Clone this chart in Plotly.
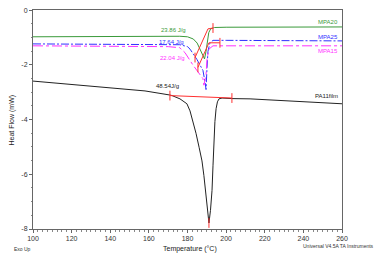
import plotly.graph_objects as go

# ---- data (temperature in °C, heat flow in mW) ----
mpa20_t = [100, 145, 176, 180, 183, 185, 186.5, 188, 188.8, 189.6, 190.3, 191, 192, 194, 200, 260]
mpa20_h = [-0.97, -0.95, -0.95, -0.97, -1.05, -1.2, -1.45, -1.7, -1.78, -1.5, -1.15, -0.82, -0.68, -0.63, -0.62, -0.61]

mpa25_t = [100, 176, 180, 181.3, 184.9, 186.5, 188, 189.1, 189.6, 190.1, 190.6, 191.6, 193.2, 200, 260]
mpa25_h = [-1.23, -1.26, -1.33, -1.42, -1.8, -1.98, -2.2, -2.63, -2.9, -2.1, -1.5, -1.2, -1.1, -1.1, -1.12]

mpa15_t = [100, 170, 176, 178.7, 182.8, 186.5, 188, 188.5, 189.6, 190.1, 191.1, 193.2, 200, 260]
mpa15_h = [-1.30, -1.33, -1.37, -1.55, -2.0, -2.35, -2.5, -2.74, -2.35, -1.8, -1.42, -1.30, -1.30, -1.30]

pa11_t = [100, 145, 158, 170.9, 172, 176.1, 179.7, 181.3, 182.8, 184.4, 186, 187.5, 188.5, 189.6, 190.6, 191.1,
          191.9, 192.7, 193.2, 193.7, 194.2, 194.8, 195.5, 196.3, 197.9, 203, 212.4, 260]
pa11_h = [-2.59, -2.85, -2.95, -3.10, -3.12, -3.24, -3.42, -3.68, -4.07, -4.50, -5.01, -5.51, -6.05, -6.77, -7.39, -7.78,
          -7.32, -6.59, -5.69, -4.79, -4.07, -3.60, -3.35, -3.24, -3.21, -3.23, -3.24, -3.42]

# integration baselines (analysis marks)
base20_t = [183.9, 190.6, 193.2]
base20_h = [-1.73, -0.68, -0.65]
base25_t = [185.4, 191.1, 196.8]
base25_h = [-2.09, -1.19, -1.19]
basepa_t = [170.9, 203.0]
basepa_h = [-3.12, -3.21]
tick_t = [183.9, 193.2, 185.4, 196.8, 170.9, 203.0, 191.1]
tick_h = [-1.73, -0.65, -2.09, -1.19, -3.12, -3.21, -7.78]

enthalpy_labels = ["23.86 J/g", "17.64 J/g", "22.04 J/g", "48.54J/g"]
enthalpy_t = [173.0, 171.5, 172.0, 169.9]
enthalpy_h = [-0.72, -1.17, -1.73, -2.77]

series_names = ["MPA20", "MPA25", "MPA15", "PA11film"]
series_label_h = [-0.43, -0.97, -1.48, -3.15]

x_ticks = [100, 120, 140, 160, 180, 200, 220, 240, 260]
y_ticks = [0, -2, -4, -6, -8]

GREEN = "#3a9a3a"
BLUE = "#3030ff"
MAGENTA = "#ff30ff"
BLACK = "#222222"
RED = "#ff3030"
colors = [GREEN, BLUE, MAGENTA, BLACK]

FONT = "Arial, Liberation Sans, sans-serif"

fig = go.Figure()
fig.add_trace(go.Scatter(x=mpa20_t, y=mpa20_h, mode="lines", line=dict(color=GREEN, width=1)))
fig.add_trace(go.Scatter(x=mpa25_t, y=mpa25_h, mode="lines", line=dict(color=BLUE, width=1, dash="8px,2px,2px,2px")))
fig.add_trace(go.Scatter(x=mpa15_t, y=mpa15_h, mode="lines", line=dict(color=MAGENTA, width=1, dash="10px,3px,3px,3px")))
fig.add_trace(go.Scatter(x=pa11_t, y=pa11_h, mode="lines", line=dict(color=BLACK, width=1)))

for bt, bh in [(base20_t, base20_h), (base25_t, base25_h), (basepa_t, basepa_h)]:
    fig.add_trace(go.Scatter(x=bt, y=bh, mode="lines", line=dict(color=RED, width=1)))
fig.add_trace(go.Scatter(x=tick_t, y=tick_h, mode="markers",
                         marker=dict(symbol="line-ns", size=7, line=dict(color=RED, width=1))))

for txt, t, h, c in zip(enthalpy_labels, enthalpy_t, enthalpy_h, colors):
    fig.add_annotation(x=t, y=h, text=txt, showarrow=False, xanchor="center", yanchor="middle",
                       font=dict(size=6, color=c, family=FONT))

for name, h, c in zip(series_names, series_label_h, colors):
    fig.add_annotation(x=259, y=h, text=name, showarrow=False, xanchor="right", yanchor="middle",
                       font=dict(size=6, color=c, family=FONT))

fig.add_annotation(xref="paper", yref="paper", x=-0.068, y=0.5, text="Heat Flow (mW)", textangle=-90,
                   xanchor="center", yanchor="middle",
                   showarrow=False, font=dict(size=7, color="#222", family=FONT))
fig.add_annotation(xref="paper", yref="paper", x=0.508, y=-0.092, text="Temperature (°C)",
                   xanchor="center", yanchor="middle",
                   showarrow=False, font=dict(size=7, color="#222", family=FONT))
fig.add_annotation(xref="paper", yref="paper", x=-0.068, y=-0.09, xanchor="left", yanchor="middle",
                   text="Exo Up", showarrow=False, font=dict(size=5, color="#333", family=FONT))
fig.add_annotation(xref="paper", yref="paper", x=1.11, y=-0.077, xanchor="right", yanchor="middle",
                   text="Universal V4.5A TA Instruments",
                   showarrow=False, font=dict(size=5, color="#333", family=FONT))

fig.update_layout(
    width=383, height=254,
    margin=dict(l=33, r=41, t=7, b=25),
    paper_bgcolor="white", plot_bgcolor="white",
    showlegend=False,
    font=dict(family=FONT, size=7, color="#333"),
    xaxis=dict(range=[100, 260], tickvals=x_ticks, ticktext=[str(v) for v in x_ticks],
               showgrid=False, zeroline=False, showline=True, linecolor="#666", linewidth=1,
               mirror=True, ticks="outside", ticklen=3, tickcolor="#666",
               minor=dict(dtick=2.5, ticks="outside", ticklen=1.5, tickcolor="#888"),
               tickfont=dict(size=7, color="#333")),
    yaxis=dict(range=[-8, 0.01], tickvals=y_ticks, ticktext=[str(v) for v in y_ticks],
               showgrid=False, zeroline=False, showline=True, linecolor="#666", linewidth=1,
               mirror=True, ticks="outside", ticklen=3, tickcolor="#666",
               minor=dict(dtick=0.5, ticks="outside", ticklen=1.5, tickcolor="#888"),
               tickfont=dict(size=7, color="#333"), ticklabeloverflow="allow"),
)

# remove the browser's default 8px body margin so the figure fills the window exactly
fig.write_html("out.html", config={"displayModeBar": False},
               post_script=["document.body.style.margin='0';"])
